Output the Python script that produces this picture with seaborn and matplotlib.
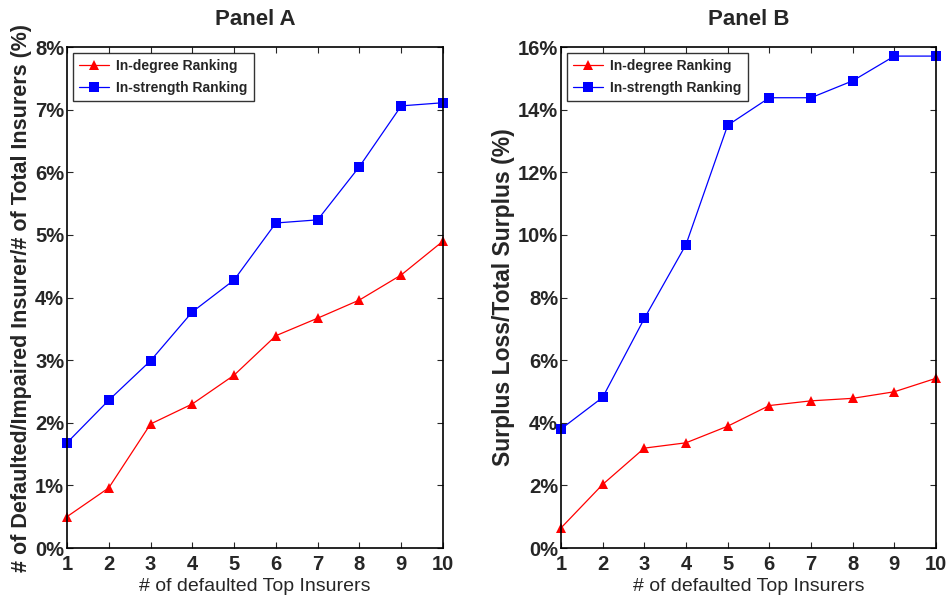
import matplotlib
matplotlib.use('Agg')
import matplotlib.pyplot as plt
import seaborn as sns
import pandas as pd
from matplotlib.ticker import FuncFormatter, MultipleLocator

n_top = [1, 2, 3, 4, 5, 6, 7, 8, 9, 10]

# Panel A: share of defaulted/impaired insurers (%)
a_degree = [0.50, 0.96, 1.98, 2.30, 2.76, 3.39, 3.67, 3.96, 4.36, 4.90]
a_strength = [1.68, 2.36, 2.99, 3.77, 4.28, 5.19, 5.24, 6.09, 7.06, 7.11]

# Panel B: surplus loss / total surplus (%)
b_degree = [0.64, 2.03, 3.19, 3.36, 3.89, 4.55, 4.70, 4.78, 4.99, 5.42]
b_strength = [3.80, 4.81, 7.33, 9.69, 13.50, 14.38, 14.38, 14.92, 15.71, 15.71]

labels = ['In-degree Ranking', 'In-strength Ranking']

def make_df(deg, strg):
    d1 = pd.DataFrame({'n': n_top, 'val': deg, 'Ranking': labels[0]})
    d2 = pd.DataFrame({'n': n_top, 'val': strg, 'Ranking': labels[1]})
    return pd.concat((d1, d2))

sns.set_style("ticks")
plt.rcParams['font.family'] = ['Liberation Sans', 'DejaVu Sans']
plt.rcParams['xtick.direction'] = 'in'
plt.rcParams['ytick.direction'] = 'in'

fig = plt.figure(figsize=(9.5, 6.05), dpi=100)
ax1 = fig.add_axes([0.0705, 0.0942, 0.3958, 0.8281])
ax2 = fig.add_axes([0.5905, 0.0942, 0.3948, 0.8281])

panels = [
    (ax1, make_df(a_degree, a_strength), 'Panel A', '# of Defaulted/Impaired Insurer/# of Total Insurers (%)', 8, 1, 15.5),
    (ax2, make_df(b_degree, b_strength), 'Panel B', 'Surplus Loss/Total Surplus (%)', 16, 2, 16.5),
]

for ax, df, title, ylab, ymax, step, yfs in panels:
    sns.lineplot(data=df, x='n', y='val', hue='Ranking', style='Ranking',
                 markers={labels[0]: '^', labels[1]: 's'}, dashes=False,
                 palette={labels[0]: '#ff0000', labels[1]: '#0000ff'},
                 markersize=7.5, linewidth=0.9, markeredgewidth=0, ax=ax)
    for ln in ax.lines:
        ln.set_clip_on(False)
    ax.set_xlim(1, 10)
    ax.set_ylim(0, ymax)
    ax.xaxis.set_major_locator(MultipleLocator(1))
    ax.yaxis.set_major_locator(MultipleLocator(step))
    ax.yaxis.set_major_formatter(FuncFormatter(lambda v, p: '%d%%' % v))
    ax.tick_params(top=True, right=True, length=4, width=0.8, labelsize=14.5)
    ax.tick_params(axis='x', pad=5)
    ax.tick_params(axis='y', pad=2)
    for lab in ax.get_xticklabels() + ax.get_yticklabels():
        lab.set_fontweight('bold')
    for sp in ax.spines.values():
        sp.set_linewidth(1.2)
        sp.set_color('black')
    ax.set_title(title, fontsize=16, fontweight='bold', pad=16)
    ax.set_xlabel('# of defaulted Top Insurers', fontsize=14, labelpad=3)
    ax.set_ylabel(ylab, fontsize=yfs, fontweight='bold', labelpad=2)
    leg = ax.legend(loc='upper left', title=None, fontsize=10, frameon=True,
                    fancybox=False, borderaxespad=0.4, handlelength=2.2,
                    labelspacing=0.6, borderpad=0.45, handletextpad=0.5)
    leg.get_frame().set_edgecolor('black')
    leg.get_frame().set_linewidth(1.0)
    for t in leg.get_texts():
        t.set_fontweight('bold')

fig.savefig('out.png', dpi=100)
